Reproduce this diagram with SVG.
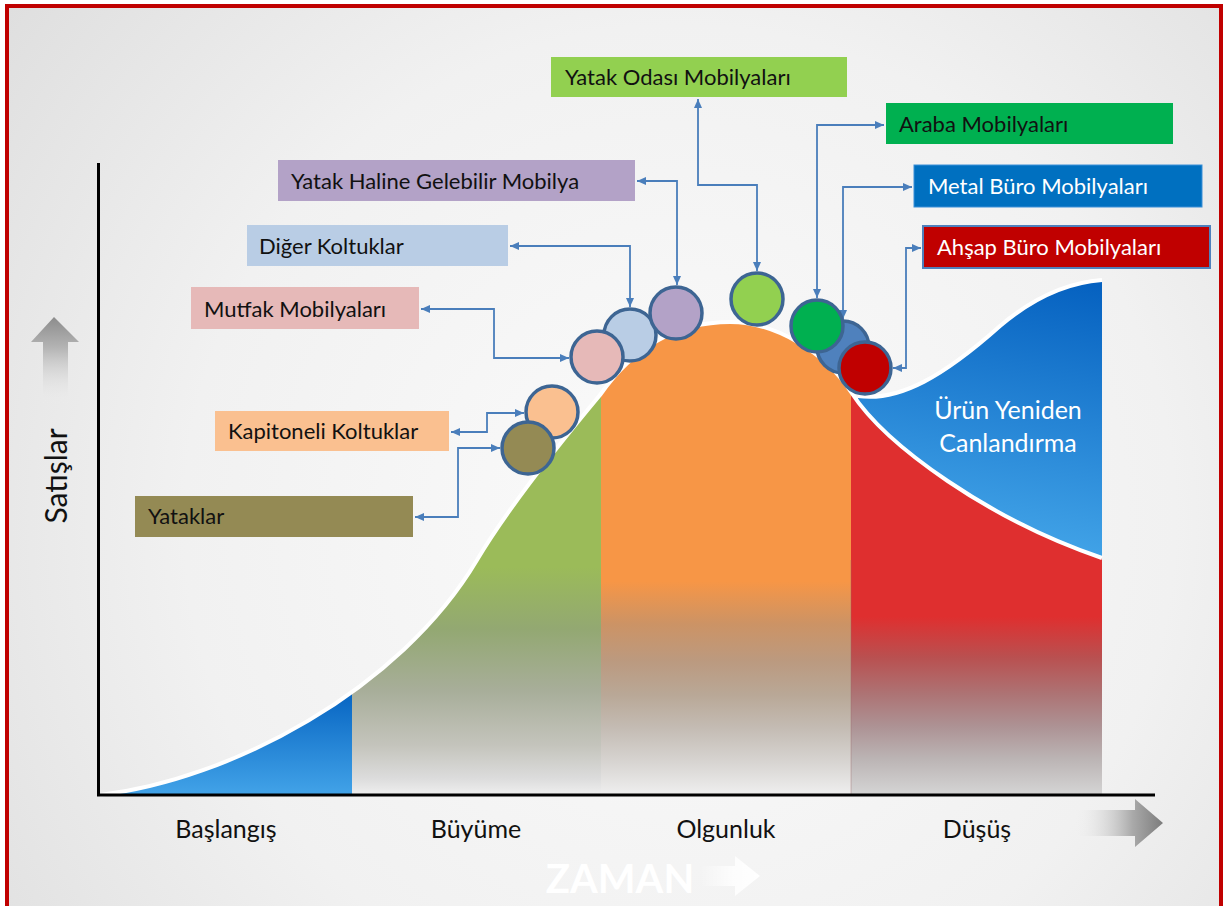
<svg xmlns="http://www.w3.org/2000/svg" width="1227" height="906" viewBox="0 0 1227 906">
  <defs>
    <radialGradient id="bg" cx="680" cy="520" r="900" gradientUnits="userSpaceOnUse">
      <stop offset="0" stop-color="#fbfbfb"/>
      <stop offset="0.55" stop-color="#f1f1f1"/>
      <stop offset="1" stop-color="#dcdcdc"/>
    </radialGradient>
    <linearGradient id="blueIntro" x1="0" y1="690" x2="0" y2="795" gradientUnits="userSpaceOnUse">
      <stop offset="0" stop-color="#0563c1"/>
      <stop offset="1" stop-color="#42a3e8"/>
    </linearGradient>
    <linearGradient id="blueRevive" x1="1080" y1="280" x2="1030" y2="560" gradientUnits="userSpaceOnUse">
      <stop offset="0" stop-color="#0561c0"/>
      <stop offset="1" stop-color="#44a6e9"/>
    </linearGradient>
    <linearGradient id="greenFade" x1="0" y1="380" x2="0" y2="795" gradientUnits="userSpaceOnUse">
      <stop offset="0" stop-color="#9bbb59"/>
      <stop offset="0.45" stop-color="#9bbb59"/>
      <stop offset="0.6" stop-color="#93a872"/>
      <stop offset="0.75" stop-color="#a8ae9a"/>
      <stop offset="0.88" stop-color="#c4c4bc"/>
      <stop offset="0.96" stop-color="#dcdcdc"/>
      <stop offset="1" stop-color="#efefef"/>
    </linearGradient>
    <linearGradient id="orangeFade" x1="0" y1="320" x2="0" y2="795" gradientUnits="userSpaceOnUse">
      <stop offset="0" stop-color="#f79646"/>
      <stop offset="0.55" stop-color="#f79646"/>
      <stop offset="0.64" stop-color="#cc9365"/>
      <stop offset="0.72" stop-color="#bb9a80"/>
      <stop offset="0.79" stop-color="#b9a897"/>
      <stop offset="0.86" stop-color="#c4bcb4"/>
      <stop offset="0.93" stop-color="#d7d4d1"/>
      <stop offset="1" stop-color="#efefef"/>
    </linearGradient>
    <linearGradient id="redFade" x1="0" y1="390" x2="0" y2="795" gradientUnits="userSpaceOnUse">
      <stop offset="0" stop-color="#df2f2f"/>
      <stop offset="0.56" stop-color="#df2f2f"/>
      <stop offset="0.66" stop-color="#b95050"/>
      <stop offset="0.75" stop-color="#ad7374"/>
      <stop offset="0.83" stop-color="#ad9294"/>
      <stop offset="0.91" stop-color="#bbb4b4"/>
      <stop offset="1" stop-color="#d5d5d5"/>
    </linearGradient>
    <linearGradient id="upArrow" x1="0" y1="317" x2="0" y2="405" gradientUnits="userSpaceOnUse">
      <stop offset="0" stop-color="#8c8c8c"/>
      <stop offset="0.35" stop-color="#b4b4b4"/>
      <stop offset="1" stop-color="#f0f0f0" stop-opacity="0"/>
    </linearGradient>
    <linearGradient id="rightArrow" x1="1163" y1="0" x2="1075" y2="0" gradientUnits="userSpaceOnUse">
      <stop offset="0" stop-color="#7c7c7c"/>
      <stop offset="0.35" stop-color="#aaaaaa"/>
      <stop offset="1" stop-color="#f0f0f0" stop-opacity="0"/>
    </linearGradient>
    <linearGradient id="timeArrow" x1="760" y1="0" x2="700" y2="0" gradientUnits="userSpaceOnUse">
      <stop offset="0" stop-color="#ffffff"/>
      <stop offset="0.45" stop-color="#ffffff" stop-opacity="0.8"/>
      <stop offset="1" stop-color="#ffffff" stop-opacity="0"/>
    </linearGradient>
    <!-- area under the life-cycle curve -->
    <clipPath id="underCurve">
      <path d="M100,795 C230,780 400,690 477,560 C512,501 570,431 600,395 C635,345 680,322 730,322 C775,322 825,352 851,392 C886,446 990,520 1102,558 L1102,795 Z"/>
    </clipPath>
    <marker id="tip" markerUnits="userSpaceOnUse" markerWidth="10" markerHeight="10" refX="9" refY="4" orient="auto-start-reverse" viewBox="0 0 10 8">
      <path d="M0,0 L9,4 L0,8 Z" fill="#4a7ebb"/>
    </marker>
    <style>
      .lbl { font-family: Lato, "Open Sans", "Liberation Sans", sans-serif; font-size: 22px; fill: #111111; }
      .lbl.w { fill: #ffffff; }
      .phase { font-family: Lato, "Open Sans", "Liberation Sans", sans-serif; font-size: 25px; fill: #111111; text-anchor: middle; }
      .dot { stroke: #3d6593; stroke-width: 3.5; }
      .link { fill: none; stroke: #4a7ebb; stroke-width: 1.8; marker-start: url(#tip); marker-end: url(#tip); }
    </style>
  </defs>

  <!-- slide background and frame -->
  <rect x="0" y="0" width="1227" height="906" fill="#ffffff"/>
  <rect x="7" y="6" width="1214" height="930" fill="url(#bg)" stroke="#c00000" stroke-width="4"/>

  <!-- sales-direction arrow and label -->
  <path d="M54,317 L79,342 L68,342 L68,405 L43,405 L43,342 L31,342 Z" fill="url(#upArrow)"/>
  <text transform="translate(67,476) rotate(-90)" text-anchor="middle" font-family="Lato, 'Open Sans', 'Liberation Sans', sans-serif" font-size="30" fill="#111111">Satışlar</text>

  <!-- phase areas under the curve -->
  <g clip-path="url(#underCurve)">
    <rect x="98" y="600" width="254" height="196" fill="url(#blueIntro)"/>
    <rect x="352" y="380" width="249" height="416" fill="url(#greenFade)"/>
    <rect x="601" y="300" width="250" height="496" fill="url(#orangeFade)"/>
    <rect x="851" y="380" width="251" height="416" fill="url(#redFade)"/>
  </g>
  <line x1="851" y1="560" x2="851" y2="795" stroke="#9e6a6a" stroke-width="0.8" opacity="0.5"/>

  <!-- product revival area -->
  <path d="M858,396 C900,402 945,375 1000,326 C1040,292 1075,282 1102,280 L1102,558 C990,520 886,446 858,404 Z" fill="url(#blueRevive)"/>

  <!-- white edges of the curves -->
  <path d="M100,795 C230,780 400,690 477,560 C512,501 570,431 600,395 C635,345 680,322 730,322 C775,322 825,352 851,392 C886,446 990,520 1102,558" fill="none" stroke="#ffffff" stroke-width="4"/>
  <path d="M858,396 C900,402 945,375 1000,326 C1040,292 1075,282 1102,280" fill="none" stroke="#ffffff" stroke-width="4"/>

  <text x="1008" y="419" text-anchor="middle" font-family="Lato, 'Open Sans', 'Liberation Sans', sans-serif" font-size="25" fill="#ffffff">Ürün Yeniden</text>
  <text x="1008" y="452" text-anchor="middle" font-family="Lato, 'Open Sans', 'Liberation Sans', sans-serif" font-size="25" fill="#ffffff">Canlandırma</text>

  <!-- axes -->
  <line x1="98.5" y1="163" x2="98.5" y2="796" stroke="#000000" stroke-width="3"/>
  <line x1="97" y1="795" x2="1155" y2="795" stroke="#000000" stroke-width="3"/>
  <path d="M1163,823 L1135,799 L1135,810 L1075,810 L1075,836 L1135,836 L1135,847 Z" fill="url(#rightArrow)"/>

  <!-- phase names -->
  <text class="phase" x="226" y="838">Başlangış</text>
  <text class="phase" x="476" y="838">Büyüme</text>
  <text class="phase" x="726" y="838">Olgunluk</text>
  <text class="phase" x="977" y="838">Düşüş</text>

  <!-- time label -->
  <text x="620" y="893" text-anchor="middle" font-family="Lato, 'Open Sans', 'Liberation Sans', sans-serif" font-weight="bold" font-size="40" fill="#ffffff">ZAMAN</text>
  <path d="M760,876 L735,856 L735,866 L700,866 L700,886 L735,886 L735,896 Z" fill="url(#timeArrow)"/>

  <!-- connectors -->
  <g id="connectors">
    <path class="link" d="M698,99 V185 H757 V271"/>
    <path class="link" d="M884,125 H817 V298"/>
    <path class="link" d="M912,187 H843 V319"/>
    <path class="link" d="M921,248 H906 V368 H893"/>
    <path class="link" d="M637,181 H677 V285"/>
    <path class="link" d="M510,246 H630 V307"/>
    <path class="link" d="M421,309 H494 V358 H569"/>
    <path class="link" d="M451,432 H487 V413 H524"/>
    <path class="link" d="M415,517 H458 V448 H500"/>
  </g>

  <!-- product markers on the curve -->
  <g id="dot-kapitoneli"><circle class="dot" cx="552" cy="412" r="26" fill="#fac090"/></g>
  <g id="dot-yataklar"><circle class="dot" cx="528" cy="448" r="26" fill="#948a54"/></g>
  <g id="dot-diger"><circle class="dot" cx="630" cy="335" r="26" fill="#b9cde5"/></g>
  <g id="dot-mutfak"><circle class="dot" cx="597" cy="357" r="26" fill="#e6b9b8"/></g>
  <g id="dot-yatak-haline"><circle class="dot" cx="676" cy="313" r="26" fill="#b3a2c7"/></g>
  <g id="dot-yatak-odasi"><circle class="dot" cx="757" cy="299" r="26" fill="#92d050"/></g>
  <g id="dot-metal"><circle class="dot" cx="843" cy="347" r="26" fill="#4f81bd"/></g>
  <g id="dot-araba"><circle class="dot" cx="817" cy="326" r="26" fill="#00b050"/></g>
  <g id="dot-ahsap"><circle class="dot" cx="865" cy="368" r="26" fill="#c00000"/></g>

  <!-- product labels -->
  <g id="box-yatak-odasi">
    <rect x="551" y="57" width="296" height="40" fill="#92d050"/>
    <text class="lbl" x="565" y="85">Yatak Odası Mobilyaları</text>
  </g>
  <g id="box-araba">
    <rect x="886" y="103" width="287" height="41" fill="#00b050"/>
    <text class="lbl" x="899" y="132">Araba Mobilyaları</text>
  </g>
  <g id="box-metal">
    <rect x="914" y="165" width="288" height="42" fill="#0070c0" stroke="#3a8fd8" stroke-width="1"/>
    <text class="lbl w" x="928" y="194">Metal Büro Mobilyaları</text>
  </g>
  <g id="box-ahsap">
    <rect x="923" y="226" width="287" height="42" fill="#c00000" stroke="#4f81bd" stroke-width="2"/>
    <text class="lbl w" x="937" y="255">Ahşap Büro Mobilyaları</text>
  </g>
  <g id="box-yatak-haline">
    <rect x="278" y="160" width="357" height="41" fill="#b3a2c7"/>
    <text class="lbl" x="291" y="189">Yatak Haline Gelebilir Mobilya</text>
  </g>
  <g id="box-diger">
    <rect x="247" y="225" width="261" height="41" fill="#b9cde5"/>
    <text class="lbl" x="259" y="254">Diğer Koltuklar</text>
  </g>
  <g id="box-mutfak">
    <rect x="191" y="287" width="228" height="42" fill="#e6b9b8"/>
    <text class="lbl" x="204" y="317">Mutfak Mobilyaları</text>
  </g>
  <g id="box-kapitoneli">
    <rect x="215" y="411" width="234" height="40" fill="#fac090"/>
    <text class="lbl" x="228" y="439">Kapitoneli Koltuklar</text>
  </g>
  <g id="box-yataklar">
    <rect x="135" y="496" width="278" height="41" fill="#948a54"/>
    <text class="lbl" x="148" y="524">Yataklar</text>
  </g>
</svg>
